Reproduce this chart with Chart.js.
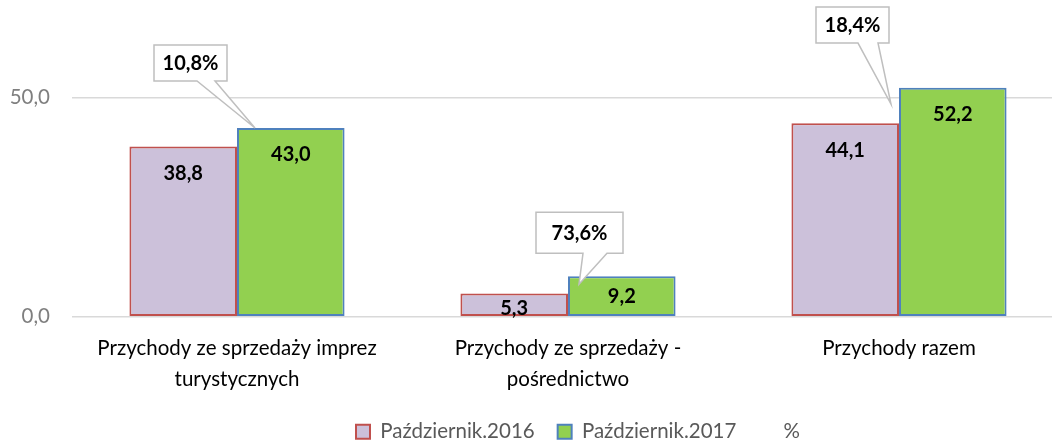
<!DOCTYPE html>
<html><head><meta charset="utf-8">
<script src="https://cdn.jsdelivr.net/npm/chart.js@4/dist/chart.umd.min.js"></script>
<style>
html,body{margin:0;padding:0;background:#fff;overflow:hidden;width:1052px;height:441px}
#wrap{position:absolute;left:0;top:0;width:1075px;height:452px}
</style></head><body>
<div id="wrap"><canvas id="c"></canvas></div>
<script>
// ---- data ----
const categories = [["Przychody ze sprzedaży imprez", "turystycznych"], ["Przychody ze sprzedaży -", "pośrednictwo"], ["Przychody razem"]];
const seriesNames = ["Październik.2016", "Październik.2017", "%"];
const oct2016 = [38.8, 5.3, 44.1];
const oct2017 = [43.0, 9.2, 52.2];
const changePct = [10.8, 73.6, 18.4];
const yTicks = [0, 50];

// ---- styling / placement helpers ----
const FONT = "Lato, 'Open Sans', sans-serif";
const fmt = v => v.toFixed(1).replace('.', ',');
const labelOffsets = [[27, 15, 27], [27, 20, 27]]; // px below bar top for value label centre
// callout geometry relative to the 2017 bar's top-left corner
const calloutGeom = [
  {box: [-83, -10, -83, -47], base: [-40, -22], tip: [18, 0]},
  {box: [-32, 55, -64, -23], base: [15, 39], tip: [11, 8]},
  {box: [-83, -10, -80.6, -44.6], base: [-41, -21], tip: [-8, 16.4]}
];

const overlay = {
  id: 'overlay',
  afterLayout(chart) {
    const lg = chart.legend;
    if (lg) {
      const d = 578 - (lg.left + lg.right) / 2;
      lg.left += d; lg.right += d;
    }
  },
  afterDatasetsDraw(chart) {
    const ctx = chart.ctx;
    ctx.save();
    ctx.fillStyle = '#000';
    ctx.font = "bold 20px " + FONT;
    ctx.textAlign = 'center';
    ctx.textBaseline = 'middle';
    [0, 1].forEach(di => {
      const meta = chart.getDatasetMeta(di);
      meta.data.forEach((bar, i) => {
        const v = chart.data.datasets[di].data[i];
        ctx.fillText(fmt(v), bar.x, bar.y + labelOffsets[di][i]);
      });
    });
    const meta = chart.getDatasetMeta(1);
    const pct = chart.data.datasets[2].data;
    meta.data.forEach((bar, i) => {
      const L = bar.x - bar.width / 2, T = bar.y;
      const g = calloutGeom[i];
      const x0 = L + g.box[0], x1 = L + g.box[1], y0 = T + g.box[2], y1 = T + g.box[3];
      ctx.beginPath();
      ctx.moveTo(x0, y0);
      ctx.lineTo(x1, y0);
      ctx.lineTo(x1, y1);
      ctx.lineTo(L + g.base[1], y1);
      ctx.lineTo(L + g.tip[0], T + g.tip[1]);
      ctx.lineTo(L + g.base[0], y1);
      ctx.lineTo(x0, y1);
      ctx.closePath();
      ctx.fillStyle = '#fff';
      ctx.fill();
      ctx.strokeStyle = '#bfbfbf';
      ctx.lineWidth = 1.5;
      ctx.stroke();
      ctx.fillStyle = '#000';
      ctx.fillText(fmt(pct[i]) + '%', (x0 + x1) / 2, (y0 + y1) / 2 + 1);
    });
    ctx.restore();
  }
};

new Chart(document.getElementById('c'), {
  type: 'bar',
  data: {
    labels: categories,
    datasets: [
      {label: seriesNames[0], data: oct2016, backgroundColor: '#ccc1da', borderColor: '#c0504d', borderWidth: 2, borderSkipped: false},
      {label: seriesNames[1], data: oct2017, backgroundColor: '#92d050', borderColor: '#4f81bd', borderWidth: 2, borderSkipped: false},
      {type: 'line', label: seriesNames[2], data: changePct, showLine: false, pointRadius: 0, pointHoverRadius: 0,
       backgroundColor: 'rgba(0,0,0,0)', borderColor: 'rgba(0,0,0,0)', borderWidth: 0}
    ]
  },
  options: {
    responsive: true,
    maintainAspectRatio: false,
    animation: false,
    events: [],
    datasets: {bar: {categoryPercentage: 0.65, barPercentage: 1}},
    layout: {padding: {top: 53.4, right: 10.5, bottom: 0, left: 0}},
    plugins: {
      tooltip: {enabled: false},
      legend: {
        position: 'bottom',
        labels: {boxWidth: 14, boxHeight: 14, padding: 23, color: '#595959', font: {family: FONT, size: 20.5}}
      }
    },
    scales: {
      x: {
        grid: {display: false, drawTicks: false},
        border: {display: false},
        ticks: {color: '#000', padding: 15.4, maxRotation: 0, autoSkip: false, font: {family: FONT, size: 20.5, lineHeight: 1.55}},
        afterFit: s => { s.height = 81.8; }
      },
      y: {
        min: 0, max: 60,
        afterBuildTicks: s => { s.ticks = yTicks.map(v => ({value: v})); },
        grid: {color: '#d9d9d9', lineWidth: 1.5, drawTicks: false},
        border: {display: false},
        ticks: {color: '#7f7f7f', padding: 21.5, font: {family: FONT, size: 20.5}, callback: v => fmt(v)},
        afterFit: s => { s.width = 71.5; }
      }
    }
  },
  plugins: [overlay]
});
</script>
</body></html>
